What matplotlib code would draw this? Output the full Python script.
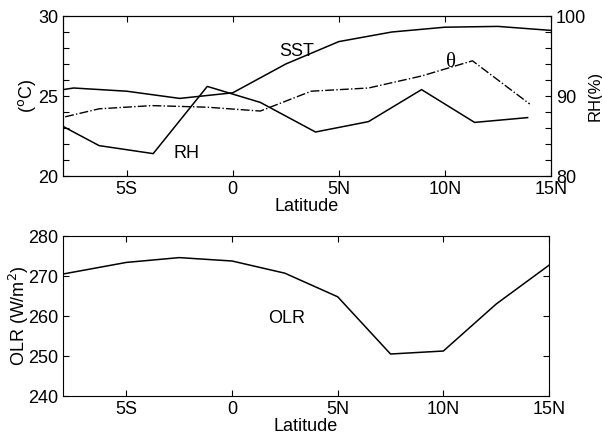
import numpy as np
import matplotlib.pyplot as plt

plt.rcParams['font.family'] = ['Liberation Sans', 'DejaVu Sans']
plt.rcParams['font.size'] = 13

# latitude (deg, negative = south)
lat_sst = [-8, -7.5, -5, -2.5, 0, 2.5, 5, 7.5, 10, 12.5, 15]
sst = [25.4, 25.5, 25.3, 24.85, 25.2, 27.0, 28.4, 29.0, 29.3, 29.35, 29.1]

lat_rh = [-8, -6.3, -3.75, -1.2, 1.3, 3.9, 6.4, 8.9, 11.4, 13.9]
rh = [86.2, 83.8, 82.8, 91.2, 89.2, 85.5, 86.8, 90.8, 86.7, 87.3]

lat_theta = [-7.9, -6.3, -3.8, -1.2, 1.3, 3.7, 6.4, 8.9, 11.3, 14.0]
theta = [23.7, 24.2, 24.4, 24.3, 24.06, 25.3, 25.5, 26.25, 27.2, 24.5]

lat_olr = [-8, -5, -2.5, 0, 2.5, 5, 7.5, 10, 12.5, 15]
olr = [270.5, 273.4, 274.6, 273.75, 270.7, 264.8, 250.5, 251.25, 263, 272.7]

xticks = [-5, 0, 5, 10, 15]
xlabels = ['5S', '0', '5N', '10N', '15N']

fig = plt.figure(figsize=(6.02, 4.36), dpi=100)

def style(ax):
    ax.tick_params(direction='in', length=4, width=0.8, top=True)
    for s in ax.spines.values():
        s.set_linewidth(0.8)

# top panel
ax1 = fig.add_axes([0.1047, 0.5963, 0.8105, 0.367])
ax1.plot(lat_sst, sst, color='k', lw=1.1)
ax1.plot(lat_theta, theta, color='k', lw=1.0, ls='-.')
ax1.set_xlim(-8, 15)
ax1.set_ylim(20, 30)
ax1.set_yticks(np.arange(20, 31, 1))
ax1.set_yticklabels(['20', '', '', '', '', '25', '', '', '', '', '30'])
ax1.set_xticks(xticks)
ax1.set_xticklabels(xlabels)
ax1.set_xlabel('Latitude', labelpad=0)
ax1.set_ylabel('($^{\\rm o}$C)', labelpad=0)
style(ax1)
ax1.tick_params(right=False)

ax2 = ax1.twinx()
ax2.plot(lat_rh, rh, color='k', lw=1.1)
ax2.set_ylim(80, 100)
ax2.set_yticks(np.arange(80, 101, 2))
ax2.set_yticklabels(['80', '', '', '', '', '90', '', '', '', '', '100'])
ax2.set_ylabel('RH(%)', fontsize=12, labelpad=1)
ax2.tick_params(direction='in', length=4, width=0.8)

ax1.text(3.0, 27.8, 'SST', ha='center', va='center')
ax1.text(10.3, 27.1, '\u03b8', ha='center', va='center', fontsize=15,
         family='Liberation Serif')
ax1.text(-2.2, 21.4, 'RH', ha='center', va='center')

# bottom panel
ax3 = fig.add_axes([0.1047, 0.0917, 0.8073, 0.367])
ax3.plot(lat_olr, olr, color='k', lw=1.1)
ax3.set_xlim(-8, 15)
ax3.set_ylim(240, 280)
ax3.set_yticks(np.arange(240, 281, 10))
ax3.set_xticks(xticks)
ax3.set_xticklabels(xlabels)
ax3.set_xlabel('Latitude', labelpad=0)
ax3.set_ylabel('OLR (W/m$^2$)', labelpad=-2)
style(ax3)
ax3.tick_params(right=True)
ax3.text(2.6, 259.5, 'OLR', ha='center', va='center')

fig.savefig('out.png', dpi=100)
